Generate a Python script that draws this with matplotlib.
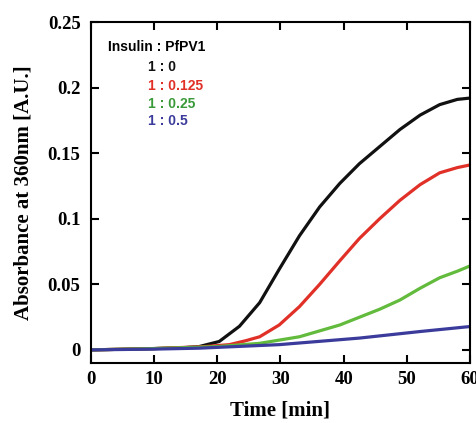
import numpy as np
import matplotlib
matplotlib.use('Agg')
from matplotlib import pyplot as plt

# time points [min] and absorbance
t_black = [0, 10, 15, 17.1, 20.3, 23.5, 26.7, 29.8, 33.0, 36.2, 39.4, 42.5, 45.7, 48.9,
           52.1, 55.2, 58, 60]
a_black = [0, 0.001, 0.0018, 0.0025, 0.0064, 0.018, 0.036, 0.0615, 0.087, 0.109, 0.127,
           0.142, 0.155, 0.168, 0.179, 0.187, 0.191, 0.192]

t_red = [0, 10, 18, 21.9, 24.5, 26.7, 29.8, 33.0, 36.2, 39.4, 42.5, 45.7, 48.9, 52.1,
         55.2, 58, 60]
a_red = [0, 0.001, 0.0025, 0.004, 0.007, 0.010, 0.019, 0.033, 0.05, 0.068, 0.085, 0.1,
         0.114, 0.126, 0.135, 0.139, 0.141]

t_green = [0, 10, 20, 26.7, 33.0, 39.4, 45.7, 48.9, 52.1, 55.2, 58, 60]
a_green = [0, 0.001, 0.0025, 0.005, 0.010, 0.019, 0.031, 0.038, 0.047, 0.055, 0.060, 0.064]

t_blue = [0, 10, 17.1, 29.8, 42.5, 52.1, 60]
a_blue = [0, 0.0006, 0.0013, 0.004, 0.009, 0.014, 0.0178]

ratios = ['1 : 0', '1 : 0.125', '1 : 0.25', '1 : 0.5']
line_colors = ['#111111', '#e03027', '#62bb3c', '#3b3b9c']
text_colors = ['#111111', '#e03027', '#3a9a3a', '#3b3b9c']

fig = plt.figure(figsize=(4.77, 4.23), dpi=100)
ax = fig.add_axes([91/477, 1 - 363/423, 379/477, 341/423])

series = [(t_black, a_black), (t_red, a_red), (t_green, a_green), (t_blue, a_blue)]
for (t, a), c in zip(series, line_colors):
    ax.plot(t, a, color=c, lw=2.3, solid_capstyle='round', solid_joinstyle='round')

ax.set_xlim(0, 60)
ax.set_ylim(-0.01, 0.25)
ax.set_xticks(range(0, 61, 10))
ax.set_yticks([0, 0.05, 0.1, 0.15, 0.2, 0.25])
ax.set_yticklabels(['0', '0.05', '0.1', '0.15', '0.2', '0.25'])
ax.tick_params(direction='in', top=True, right=True, length=6, width=1.5, pad=6)
ax.tick_params(axis='y', pad=7.5)
for lab in ax.get_xticklabels() + ax.get_yticklabels():
    lab.set_family('Liberation Serif')
    lab.set_weight('bold')
    lab.set_size(13.5)
for s in ax.spines.values():
    s.set_linewidth(1.5)

ax.set_xlabel('Time [min]', family='Liberation Serif', weight='bold', size=15, labelpad=9)
ax.set_ylabel('Absorbance at 360nm [A.U.]', family='Liberation Serif', weight='bold',
              size=15, labelpad=10)

# legend written as text
ax.text(108/477, 1 - 47/423, 'Insulin : PfPV1', transform=fig.transFigure,
        family='Liberation Sans', weight='bold', size=10, va='center')
ys = [67, 86, 104, 121]
for r, c, y in zip(ratios, text_colors, ys):
    ax.text(148/477, 1 - y/423, r, transform=fig.transFigure, color=c,
            family='Liberation Sans', weight='bold', size=10, va='center')

fig.savefig('out.png', dpi=100)
